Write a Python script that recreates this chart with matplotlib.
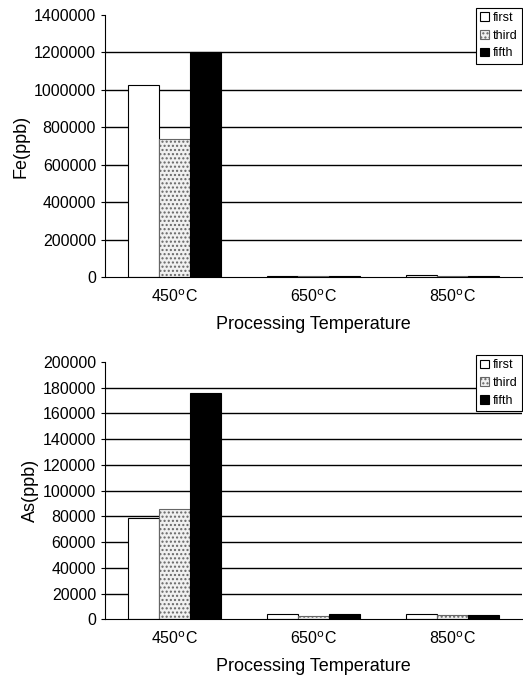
import numpy as np
import matplotlib.pyplot as plt

plt.rcParams['font.family'] = ['Liberation Sans', 'DejaVu Sans']

temps = ['450$^{\\mathrm{o}}$C', '650$^{\\mathrm{o}}$C', '850$^{\\mathrm{o}}$C']
series = ['first', 'third', 'fifth']

fe_first = [1025000, 8000, 10000]
fe_third = [735000, 4000, 5000]
fe_fifth = [1200000, 3000, 4000]

as_first = [79000, 4000, 4000]
as_third = [85500, 2500, 3000]
as_fifth = [176000, 3800, 3000]

styles = [dict(facecolor='white', edgecolor='black', hatch=None),
          dict(facecolor='#f0f0f0', edgecolor='#666666', hatch='....'),
          dict(facecolor='black', edgecolor='black', hatch=None)]

fig = plt.figure(figsize=(5.23, 6.79), dpi=100)
ax1 = fig.add_axes([0.201, 0.592, 0.797, 0.386])
ax2 = fig.add_axes([0.201, 0.088, 0.797, 0.379])

x = np.arange(len(temps))
w = 0.222


def draw(ax, data, ylabel, ymax, step):
    ticks = np.arange(0, ymax + 1, step)
    for t in ticks[1:-1]:
        ax.axhline(t, color='black', linewidth=1.0, zorder=0)
    for i, (vals, st) in enumerate(zip(data, styles)):
        ax.bar(x + (i - 1) * w, vals, w, label=series[i], linewidth=0.8,
               zorder=2, **st)
    ax.set_xlim(-0.5, 2.5)
    ax.set_ylim(0, ymax)
    ax.set_yticks(ticks)
    ax.set_yticklabels([str(int(v)) for v in ticks], fontsize=11.5)
    ax.set_xticks(x)
    ax.set_xticklabels(temps, fontsize=11.5)
    ax.tick_params(axis='x', length=0, pad=8)
    ax.tick_params(axis='y', length=3)
    ax.spines['top'].set_visible(False)
    ax.spines['right'].set_visible(False)
    ax.set_ylabel(ylabel, fontsize=13, labelpad=3)
    ax.set_xlabel('Processing Temperature', fontsize=13, labelpad=8)
    leg = ax.legend(loc='upper right', bbox_to_anchor=(1.0, 1.027), fontsize=9,
                    handlelength=0.7, handleheight=0.7, handletextpad=0.3,
                    borderpad=0.35, labelspacing=0.45, fancybox=False,
                    framealpha=1, edgecolor='black', borderaxespad=0)
    leg.get_frame().set_linewidth(0.8)


draw(ax1, [fe_first, fe_third, fe_fifth], 'Fe(ppb)', 1400000, 200000)
draw(ax2, [as_first, as_third, as_fifth], 'As(ppb)', 200000, 20000)

plt.savefig('out.png', dpi=100)
